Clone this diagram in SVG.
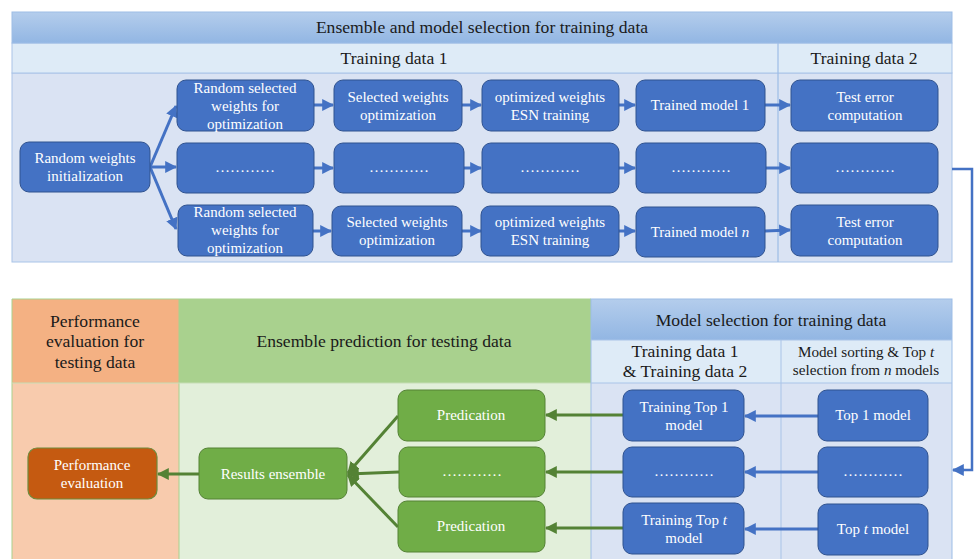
<svg xmlns="http://www.w3.org/2000/svg" width="974" height="559" viewBox="0 0 974 559">
  <defs>
    <linearGradient id="hdrBlue" x1="0" y1="0" x2="0" y2="1">
      <stop offset="0" stop-color="#B4CDEC"/>
      <stop offset="1" stop-color="#92B6E3"/>
    </linearGradient>
    <marker id="arrB" viewBox="0 0 10 10" refX="9" refY="5" markerWidth="4" markerHeight="4" orient="auto" markerUnits="strokeWidth">
      <path d="M0,0 L10,5 L0,10 z" fill="#4472C4"/>
    </marker>
    <marker id="arrG" viewBox="0 0 10 10" refX="9" refY="5" markerWidth="4" markerHeight="4" orient="auto" markerUnits="strokeWidth">
      <path d="M0,0 L10,5 L0,10 z" fill="#548235"/>
    </marker>
  </defs>
  <style>
    text { font-family: "Liberation Serif", "Times New Roman", serif; text-anchor: middle; }
    .title { font-size: 17.6px; fill: #1a1a1a; }
    .small { font-size: 15.2px; fill: #1a1a1a; }
    .lbl { font-size: 15px; fill: #ffffff; }
    .bnode { fill: #4472C4; stroke: #2F528F; stroke-width: 1; }
    .gnode { fill: #70AD47; stroke: #548235; stroke-width: 1; }
    .onode { fill: #C55A11; stroke: #6E8B3D; stroke-width: 1.2; }
    .cb { stroke: #4472C4; stroke-width: 3; fill: none; marker-end: url(#arrB); }
    .cg { stroke: #548235; stroke-width: 3; fill: none; marker-end: url(#arrG); }
    .cl { stroke: #4472C4; stroke-width: 2.5; fill: none; }
  </style>

  <rect width="974" height="559" fill="#ffffff"/>

  <!-- Upper panel: ensemble and model selection -->
  <g id="panel-top">
    <rect x="12" y="73" width="940" height="189" fill="#DAE3F3" stroke="#A9C4E8" stroke-width="1"/>
    <rect x="12" y="43" width="940" height="30" fill="#DEEBF7" stroke="#A9C4E8" stroke-width="1"/>
    <rect x="12" y="12" width="940" height="31" fill="url(#hdrBlue)" stroke="#9DBDE6" stroke-width="1"/>
    <line x1="778" y1="43" x2="778" y2="262" stroke="#9DBDE6" stroke-width="1.2"/>
    <text class="title" x="482" y="33">Ensemble and model selection for training data</text>
    <text class="title" x="394" y="64">Training data 1</text>
    <text class="title" x="864" y="64">Training data 2</text>
  </g>

  <!-- Lower panel: performance, ensemble prediction, model selection -->
  <g id="panel-bottom">
    <rect x="12" y="383" width="167" height="180" fill="#F8CBAD"/>
    <rect x="12" y="299" width="167" height="84" fill="#F4B183"/>
    <rect x="179" y="383" width="412" height="180" fill="#E2EFDA"/>
    <rect x="179" y="299" width="412" height="84" fill="#A9D18E"/>
    <rect x="591" y="383" width="361" height="180" fill="#DAE3F3"/>
    <rect x="591" y="340" width="361" height="43" fill="#DEEBF7"/>
    <rect x="591" y="299" width="361" height="41" fill="url(#hdrBlue)"/>
    <line x1="12" y1="299" x2="12" y2="559" stroke="#A9D18E" stroke-width="1"/>
    <line x1="12" y1="299" x2="591" y2="299" stroke="#A9D18E" stroke-width="1"/>
    <line x1="179" y1="299" x2="179" y2="559" stroke="#A9D18E" stroke-width="1"/>
    <line x1="12" y1="383" x2="591" y2="383" stroke="#C5DDB5" stroke-width="1"/>
    <rect x="591" y="299" width="361" height="264" fill="none" stroke="#9DBDE6" stroke-width="1"/>
    <line x1="591" y1="340" x2="952" y2="340" stroke="#A9C4E8" stroke-width="1"/>
    <line x1="591" y1="383" x2="952" y2="383" stroke="#A9C4E8" stroke-width="1"/>
    <line x1="781" y1="340" x2="781" y2="559" stroke="#A9C4E8" stroke-width="1"/>
    <text class="title" x="95" y="327">Performance</text>
    <text class="title" x="95" y="347">evaluation for</text>
    <text class="title" x="95" y="368">testing data</text>
    <text class="title" x="384" y="347">Ensemble prediction for testing data</text>
    <text class="title" x="771" y="326">Model selection for training data</text>
    <text class="title" x="685" y="357">Training data 1</text>
    <text class="title" x="685" y="377">&amp; Training data 2</text>
    <text class="small" x="866" y="357">Model sorting &amp; Top <tspan font-style="italic">t</tspan></text>
    <text class="small" x="866" y="375">selection from <tspan font-style="italic">n</tspan> models</text>
  </g>

  <!-- Connectors -->
  <g id="connectors">
    <line class="cb" x1="150" y1="167" x2="176" y2="106"/>
    <line class="cb" x1="150" y1="167" x2="176" y2="167"/>
    <line class="cb" x1="150" y1="167" x2="176" y2="229"/>

    <line class="cb" x1="314" y1="105" x2="333" y2="105"/>
    <line class="cb" x1="462" y1="105" x2="481" y2="105"/>
    <line class="cb" x1="619" y1="105" x2="635" y2="105"/>
    <line class="cb" x1="765" y1="105" x2="790" y2="105"/>

    <line class="cb" x1="314" y1="168" x2="333" y2="168"/>
    <line class="cb" x1="464" y1="168" x2="481" y2="168"/>
    <line class="cb" x1="619" y1="168" x2="635" y2="168"/>
    <line class="cb" x1="766" y1="168" x2="790" y2="168"/>

    <line class="cb" x1="313" y1="231" x2="331" y2="231"/>
    <line class="cb" x1="462" y1="231" x2="481" y2="231"/>
    <line class="cb" x1="619" y1="231" x2="635" y2="231"/>
    <line class="cb" x1="765" y1="231" x2="790" y2="230"/>

    <!-- Link from the upper panel to the model selection block -->
    <path class="cl" d="M952,169 L972,169 L972,470 L962,470"/>
    <line class="cb" x1="964" y1="470" x2="953" y2="470"/>

    <line class="cb" x1="818" y1="416" x2="745" y2="416"/>
    <line class="cb" x1="818" y1="472" x2="745" y2="472"/>
    <line class="cb" x1="818" y1="529" x2="745" y2="529"/>

    <line class="cg" x1="623" y1="415" x2="546" y2="415"/>
    <line class="cg" x1="623" y1="472" x2="546" y2="472"/>
    <line class="cg" x1="623" y1="528" x2="546" y2="528"/>

    <line class="cg" x1="398" y1="416" x2="348" y2="473"/>
    <line class="cg" x1="399" y1="472" x2="348" y2="474"/>
    <line class="cg" x1="398" y1="527" x2="348" y2="475"/>

    <line class="cg" x1="199" y1="474" x2="158" y2="474"/>
  </g>

  <!-- Nodes: upper panel -->
  <g id="n-init"><rect class="bnode" x="20" y="142" width="130" height="50" rx="9"/><text class="lbl" x="85" y="163">Random weights</text><text class="lbl" x="85" y="181">initialization</text></g>

  <g id="n-rsw1"><rect class="bnode" x="177" y="80" width="137" height="51" rx="9"/><text class="lbl" x="245" y="93">Random selected</text><text class="lbl" x="245" y="111">weights for</text><text class="lbl" x="245" y="129">optimization</text></g>
  <g id="n-swo1"><rect class="bnode" x="334" y="80" width="128" height="51" rx="9"/><text class="lbl" x="398" y="102">Selected weights</text><text class="lbl" x="398" y="120">optimization</text></g>
  <g id="n-esn1"><rect class="bnode" x="482" y="80" width="137" height="51" rx="9"/><text class="lbl" x="550" y="102">optimized weights</text><text class="lbl" x="550" y="120">ESN training</text></g>
  <g id="n-tm1"><rect class="bnode" x="636" y="80" width="129" height="51" rx="9"/><text class="lbl" x="700" y="110">Trained model 1</text></g>
  <g id="n-te1"><rect class="bnode" x="791" y="80" width="147" height="51" rx="9"/><text class="lbl" x="865" y="102">Test error</text><text class="lbl" x="865" y="120">computation</text></g>

  <g id="n-rsw2"><rect class="bnode" x="177" y="143" width="137" height="50" rx="9"/><text class="lbl" x="245" y="172">…………</text></g>
  <g id="n-swo2"><rect class="bnode" x="334" y="143" width="130" height="50" rx="9"/><text class="lbl" x="399" y="172">…………</text></g>
  <g id="n-esn2"><rect class="bnode" x="482" y="143" width="137" height="50" rx="9"/><text class="lbl" x="550" y="172">…………</text></g>
  <g id="n-tm2"><rect class="bnode" x="636" y="143" width="130" height="50" rx="9"/><text class="lbl" x="701" y="172">…………</text></g>
  <g id="n-te2"><rect class="bnode" x="791" y="143" width="147" height="50" rx="9"/><text class="lbl" x="865" y="172">…………</text></g>

  <g id="n-rsw3"><rect class="bnode" x="178" y="205" width="135" height="51" rx="9"/><text class="lbl" x="245" y="217">Random selected</text><text class="lbl" x="245" y="235">weights for</text><text class="lbl" x="245" y="253">optimization</text></g>
  <g id="n-swo3"><rect class="bnode" x="332" y="206" width="130" height="50" rx="9"/><text class="lbl" x="397" y="227">Selected weights</text><text class="lbl" x="397" y="245">optimization</text></g>
  <g id="n-esn3"><rect class="bnode" x="481" y="206" width="138" height="50" rx="9"/><text class="lbl" x="550" y="227">optimized weights</text><text class="lbl" x="550" y="245">ESN training</text></g>
  <g id="n-tm3"><rect class="bnode" x="636" y="207" width="129" height="50" rx="9"/><text class="lbl" x="700" y="237">Trained model <tspan font-style="italic">n</tspan></text></g>
  <g id="n-te3"><rect class="bnode" x="791" y="205" width="147" height="51" rx="9"/><text class="lbl" x="865" y="227">Test error</text><text class="lbl" x="865" y="245">computation</text></g>

  <!-- Nodes: lower panel -->
  <g id="n-top1"><rect class="bnode" x="818" y="390" width="110" height="51" rx="9"/><text class="lbl" x="873" y="420">Top 1 model</text></g>
  <g id="n-top2"><rect class="bnode" x="818" y="447" width="110" height="50" rx="9"/><text class="lbl" x="873" y="476">…………</text></g>
  <g id="n-topt"><rect class="bnode" x="818" y="504" width="110" height="51" rx="9"/><text class="lbl" x="873" y="534">Top <tspan font-style="italic">t</tspan> model</text></g>

  <g id="n-train1"><rect class="bnode" x="623" y="390" width="121" height="51" rx="9"/><text class="lbl" x="684" y="412">Training Top 1</text><text class="lbl" x="684" y="430">model</text></g>
  <g id="n-train2"><rect class="bnode" x="623" y="447" width="121" height="50" rx="9"/><text class="lbl" x="684" y="476">…………</text></g>
  <g id="n-traint"><rect class="bnode" x="623" y="503" width="121" height="51" rx="9"/><text class="lbl" x="684" y="525">Training Top <tspan font-style="italic">t</tspan></text><text class="lbl" x="684" y="543">model</text></g>

  <g id="n-pred1"><rect class="gnode" x="398" y="390" width="147" height="51" rx="9"/><text class="lbl" x="471" y="420">Predication</text></g>
  <g id="n-pred2"><rect class="gnode" x="399" y="447" width="146" height="50" rx="9"/><text class="lbl" x="472" y="476">…………</text></g>
  <g id="n-predt"><rect class="gnode" x="398" y="501" width="147" height="51" rx="9"/><text class="lbl" x="471" y="531">Predication</text></g>

  <g id="n-ensemble"><rect class="gnode" x="199" y="448" width="148" height="51" rx="9"/><text class="lbl" x="273" y="479">Results ensemble</text></g>

  <g id="n-perf"><rect class="onode" x="28" y="448" width="129" height="51" rx="9"/><text class="lbl" x="92" y="470">Performance</text><text class="lbl" x="92" y="488">evaluation</text></g>
</svg>
